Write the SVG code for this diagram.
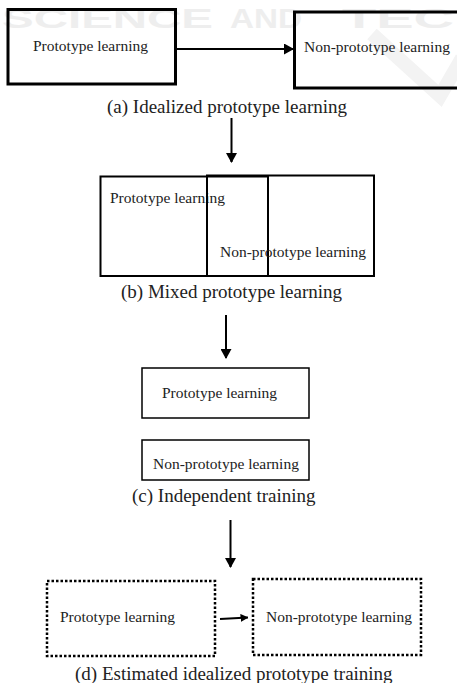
<svg xmlns="http://www.w3.org/2000/svg" width="457" height="683" viewBox="0 0 457 683">
<style>
.bg{fill:#ffffff}
.wm{font-family:"Liberation Sans",Arial,sans-serif;font-weight:bold;font-size:28px;fill:#eeeeee}
.lbl{font-family:"Liberation Serif","Times New Roman",serif;font-size:15.5px;fill:#222222}
.cap{font-family:"Liberation Serif","Times New Roman",serif;font-size:19px;fill:#222222}
.thick{fill:none;stroke:#000;stroke-width:3}
.mid{fill:none;stroke:#000;stroke-width:2}
.thin{fill:none;stroke:#000;stroke-width:1.5}
.dot{fill:none;stroke:#000;stroke-width:2.5;stroke-dasharray:2.5 2}
.conn{fill:none;stroke:#000;stroke-width:2}
</style>
<defs>
<marker id="ah" markerUnits="userSpaceOnUse" markerWidth="10" markerHeight="11" refX="9" refY="5.5" orient="auto">
<path d="M0,0 L10,5.5 L0,11 Z" fill="#000"/>
</marker>
<marker id="ahs" markerUnits="userSpaceOnUse" markerWidth="8" markerHeight="8" refX="7.5" refY="4" orient="auto">
<path d="M0,0 L8,4 L0,8 Z" fill="#000"/>
</marker>
</defs>
<rect class="bg" x="0" y="0" width="457" height="683"/>
<g id="watermark">
<text class="wm" x="2" y="28" textLength="211" lengthAdjust="spacingAndGlyphs">SCIENCE</text>
<text class="wm" x="230" y="28" textLength="72" lengthAdjust="spacingAndGlyphs">AND</text>
<text class="wm" x="342" y="28" textLength="112" lengthAdjust="spacingAndGlyphs">TEC</text>
<polyline points="372,34 440,96 462,58" fill="none" stroke="#f3f3f3" stroke-width="14"/>
</g>
<g id="connectors">
<line class="conn" x1="176" y1="49" x2="293" y2="49" marker-end="url(#ah)"/>
<line class="conn" x1="231.5" y1="118" x2="231.5" y2="162" marker-end="url(#ah)"/>
<line class="conn" x1="226" y1="315" x2="226" y2="358" marker-end="url(#ah)"/>
<line class="conn" x1="230.5" y1="520" x2="230.5" y2="567" marker-end="url(#ah)"/>
<line class="conn" x1="220" y1="619" x2="248" y2="617.5" stroke-width="1.5" marker-end="url(#ahs)"/>
</g>
<g id="a-proto">
<rect class="thick" x="8" y="9.5" width="167.5" height="74.5"/>
<text class="lbl" x="33" y="51">Prototype learning</text>
</g>
<g id="a-nonproto">
<rect class="thick" x="294.5" y="12" width="170" height="76"/>
<text class="lbl" x="304" y="52">Non-prototype learning</text>
</g>
<text class="cap" x="107" y="113">(a) Idealized prototype learning</text>
<g id="b-proto">
<rect class="mid" x="100.5" y="176.5" width="167.5" height="99.5"/>
<text class="lbl" x="110" y="203">Prototype learning</text>
</g>
<g id="b-nonproto">
<rect class="mid" x="207" y="175.5" width="167" height="100.5"/>
<text class="lbl" x="220" y="257">Non-prototype learning</text>
</g>
<text class="cap" x="121" y="298">(b) Mixed prototype learning</text>
<g id="c-proto">
<rect class="thin" x="142" y="368" width="167" height="50"/>
<text class="lbl" x="162" y="398">Prototype learning</text>
</g>
<g id="c-nonproto">
<rect class="thin" x="142" y="440" width="167" height="40"/>
<text class="lbl" x="153" y="469">Non-prototype learning</text>
</g>
<text class="cap" x="132" y="502">(c) Independent training</text>
<g id="d-proto">
<rect class="dot" x="47" y="581" width="168" height="75"/>
<text class="lbl" x="60" y="622">Prototype learning</text>
</g>
<g id="d-nonproto">
<rect class="dot" x="253" y="579" width="168" height="76"/>
<text class="lbl" x="266" y="622">Non-prototype learning</text>
</g>
<text class="cap" x="75" y="680">(d) Estimated idealized prototype training</text>
</svg>
